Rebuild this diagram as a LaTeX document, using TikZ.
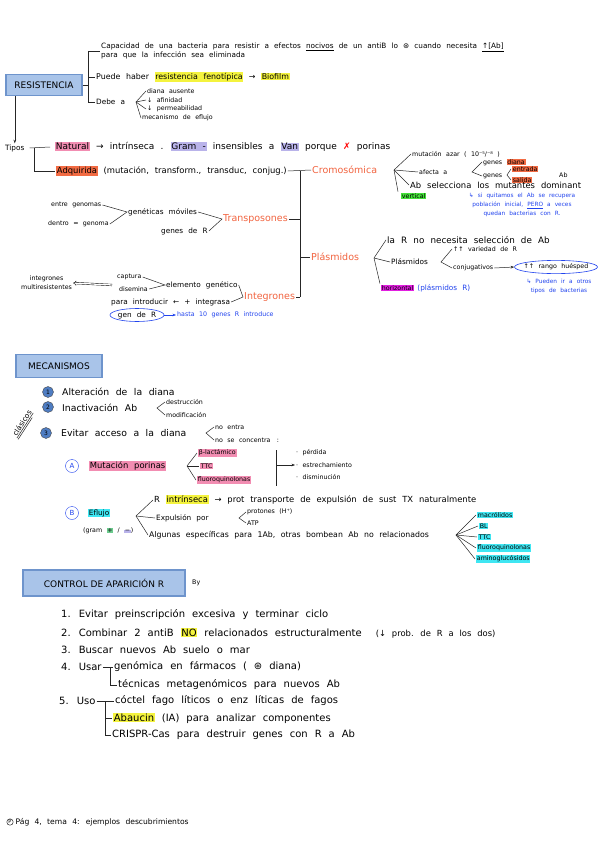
\documentclass[tikz,border=0pt]{standalone}
\usepackage{fontspec}
\setmainfont{DejaVu Sans}
\usetikzlibrary{arrows.meta,positioning,shapes.geometric}

\definecolor{boxfill}{HTML}{A9C4E9}
\definecolor{boxline}{HTML}{6E94CC}
\definecolor{hlpink}{HTML}{F28DB2}
\definecolor{hlyellow}{HTML}{F4F33E}
\definecolor{hlorange}{HTML}{F26B43}
\definecolor{hllav}{HTML}{B9B3EA}
\definecolor{hlgreen}{HTML}{45E23A}
\definecolor{hlmag}{HTML}{E21FE0}
\definecolor{hlcyan}{HTML}{3FE6F2}
\definecolor{hlmint}{HTML}{6CCB8E}
\definecolor{inkorange}{HTML}{F26440}
\definecolor{inkblue}{HTML}{2244EE}
\definecolor{numfill}{HTML}{4F7DC2}

\newcommand{\mk}[2]{{\setlength{\fboxsep}{0.7pt}\colorbox{#1}{#2}}}
\newcommand{\hand}[1]{\fontsize{#1}{9}\selectfont\spaceskip=0.7em\relax}

\begin{document}
\begin{tikzpicture}[x=1pt, y=-1pt,
    every node/.style={font=\hand{7.3}, inner sep=1pt, anchor=west},
    small/.style={font=\hand{6.3}},
    mid/.style={font=\hand{8.4}},
    big/.style={font=\hand{10}},
    branch/.style={text=inkorange, font=\fontsize{9.5}{11}\selectfont},
    ink/.style={text=inkblue},
    note/.style={ink, font=\hand{5.8}, align=center, anchor=center},
    title/.style={rectangle, draw=boxline, fill=boxfill, line width=1.4pt, anchor=center, font=\fontsize{9}{11}\selectfont},
    num/.style={circle, draw=black!70, fill=numfill, minimum size=11pt, inner sep=0pt, anchor=center, font=\fontsize{6}{7}\selectfont},
    letter/.style={circle, draw=inkblue, text=inkblue, minimum size=13pt, inner sep=0pt, anchor=center, font=\fontsize{7}{8}\selectfont},
    ring/.style={ellipse, draw=inkblue, line width=0.6pt, inner xsep=-3pt, inner ysep=1.5pt, anchor=center},
    link/.style={line width=0.5pt, draw=black!85},
    arrow/.style={link, -{Stealth[length=3.5pt]}}
]
\path[fill=white] (0,0) rectangle (600,848);
\useasboundingbox (0,0) rectangle (600,848);

% resistencia
\node[title, minimum width=76pt, minimum height=21pt] (res) at (44,85) {RESISTENCIA};
\node[align=left] (def) at (100,51) {Capacidad de una bacteria para resistir a efectos \underline{nocivos} de un antiB lo ⊛ cuando necesita \underline{↑[Ab]}\\para que la infección sea eliminada};
\node[font=\hand{7.9}] (pue) at (95,77) {Puede haber \mk{hlyellow}{resistencia fenotípica} → \mk{hlyellow}{Biofilm}};
\node (deb) at (95,102) {Debe a};
\node[small] (dia) at (146,91) {diana ausente};
\node[small] (afi) at (146,100) {↓ afinidad};
\node[small] (per) at (146,109) {↓ permeabilidad};
\node[small] (mec) at (141,118) {mecanismo de eflujo};

\coordinate (bra) at (88,85);
\coordinate (fd) at (136,102);
\draw[link] (res.east) -- (bra);
\draw[link] (bra |- def.west) -- (bra |- deb.west);
\draw[link] (bra |- def.west) -- (def.west);
\draw[link] (bra |- pue.west) -- (pue.west);
\draw[link] (bra |- deb.west) -- (deb.west);
\foreach \n in {dia,afi,per,mec}
    \draw[link] (fd) -- (\n.west);

% tipos
\node (tip) at (4,148) {Tipos};
\draw[arrow] (res.south -| tip.north) -- (tip.north);
\node[font=\hand{9}] (nat) at (54,147) {\mk{hlpink}{Natural} → intrínseca . \mk{hllav}{Gram -} insensibles a \mk{hllav}{Van} porque \textcolor{red}{✗} porinas};
\node[mid] (adq) at (55,171) {\mk{hlorange}{Adquirida} (mutación, transform., transduc, conjug.)};
\draw[link] ([xshift=4pt]tip.east) -- ([xshift=-4pt]nat.west);
\draw[link] ([xshift=9pt]tip.east) |- (adq.west);

\node[branch] (cro) at (311,170) {Cromosómica};
\node[branch] (tra) at (222,219) {Transposones};
\node[branch] (pla) at (310,257) {Plásmidos};
\node[branch] (int) at (243,297) {Integrones};
\coordinate (spine) at (300,171);
\draw[link] (adq.east) -- (cro.west);
\draw[link] (spine) -- (spine |- int.east);
\draw[link] (tra.east) -- (spine |- tra.east);
\draw[link] (spine |- pla.west) -- (pla.west);
\draw[link] (int.east) -- (spine |- int.east);

% cromosomica
\coordinate (fc) at (394,170);
\node[small] (mut) at (411,154) {mutación azar ( 10⁻⁵/⁻⁸ )};
\node[small] (afe) at (418,172) {afecta a};
\node[small] (gdi) at (482,162) {genes \mk{hlorange}{diana}};
\node[small] (gen) at (482,176) {genes};
\node[small] (inp) at (511,169) {\mk{hlorange}{entrada}};
\node[small] (out) at (511,180) {\mk{hlorange}{salida}};
\node[small] (abx) at (558,175) {Ab};
\node[mid] (sel) at (409,185) {Ab selecciona los mutantes dominant};
\node[small] (ver) at (400,196) {\mk{hlgreen}{vertical}};
\node[note] (qui) at (522,205) {↳ si quitamos el Ab se recupera\\población inicial, \underline{PERO} a veces\\quedan bacterias con R.};
\foreach \n in {mut,afe,sel}
    \draw[link] (fc) -- (\n.west);
\draw[link] (fc) -- ([xshift=-2pt]ver.north west);
\coordinate (fa) at (472,172);
\draw[link] (gdi.west) -- (fa) -- (gen.west);
\coordinate (fg) at (507,175);
\draw[link] (inp.west) -- (fg) -- (out.west);

% transposones
\node[small] (eng) at (50,205) {entre genomas};
\node[small] (deg) at (47,224) {dentro = genoma};
\node (gmo) at (127,212) {genéticas móviles};
\node (gdr) at (160,231) {genes de R};
\draw[link] (eng.east) -- (gmo.west) -- (deg.east);
\draw[link] (gmo.east) -- (tra.west) -- (gdr.east);

% plasmidos
\coordinate (fp) at (374,258);
\node[font=\hand{8.8}] (lar) at (386,240) {la R no necesita selección de Ab};
\node (pl2) at (390,262) {Plásmidos};
\node[small] (hor) at (380,288) {\mk{hlmag}{horizontal}};
\node[ink, right=1pt of hor] (plr) {(plásmidos R)};
\draw[link] (fp) -- (lar.west);
\draw[link] (fp) -- (pl2.west);
\draw[link] (fp) -- (hor.north west);
\coordinate (fq) at (441,262);
\node[small] (var) at (452,249) {↑↑ variedad de R};
\node[small] (cnj) at (452,268) {conjugativos};
\node[ring, small] (ran) at (556,267) {↑↑ rango huésped};
\draw[link] (var.west) -- (fq) -- (cnj.west);
\draw[arrow] (cnj.east) -- (ran.west);
\node[note] (otr) at (559,286) {↳ Pueden ir a otros\\tipos de bacterias};

% integrones
\node[small, align=center] (imr) at (20,283) {integrones\\multiresistentes};
\coordinate (imp) at (112,285);
\draw[-{Implies}, double, double distance=1.3pt, line width=0.4pt] (imp) -- (imr.east);
\node[small] (cpt) at (116,277) {captura};
\node[small] (dsm) at (118,289) {disemina};
\node (ele) at (165,285) {elemento genético};
\node (pin) at (110,302) {para introducir ← + integrasa};
\draw[link] (cpt.east) -- (ele.west) -- (dsm.east);
\draw[link] (ele.east) -- (int.west) -- (pin.east);
\node[ellipse, draw=inkblue, line width=0.6pt, inner sep=0pt, anchor=center, minimum width=54pt, minimum height=13pt] (gnr) at (137,315) {gen de R};
\node[ink, small] (has) at (176,315) {hasta 10 genes R introduce};
\draw[arrow, draw=inkblue] (gnr.east) -- (has.west);

% mecanismos
\node[title, minimum width=86pt, minimum height=23pt] (mcs) at (59,366) {MECANISMOS};
\node[num] (n1) at (48,392) {1};
\node[num] (n2) at (48,407) {2};
\node[num] (n3) at (46,433) {3};
\node[font=\hand{9.3}] (alt) at (61,392) {Alteración de la diana};
\node[font=\hand{9.3}] (ina) at (61,408) {Inactivación Ab};
\node[small] (des) at (165,402) {destrucción};
\node[small] (mdf) at (165,415) {modificación};
\coordinate (fi) at (157,408);
\draw[link] (des.west) -- (fi) -- (mdf.west);
\node[rotate=57, anchor=center, inner sep=0.5pt] (cla) at (22,423) {clásicos};
\draw[link] ([yshift=-0.5pt]cla.south west) -- ([yshift=-0.5pt]cla.south east);
\draw[link] (cla.south west) ++(1.2pt,-1.8pt) -- ++(57:26pt);
\node[font=\hand{9.3}] (eva) at (60,433) {Evitar acceso a la diana};
\node[small] (noe) at (214,427) {no entra};
\node[small] (nsc) at (214,440) {no se concentra\quad :};
\coordinate (fe) at (206,433);
\draw[link] (noe.west) -- (fe) -- (nsc.west);

\node[letter] (la) at (72,466) {A};
\node[mid] (mpo) at (88,466) {\mk{hlpink}{Mutación porinas}};
\coordinate (fm) at (187,466);
\node[small] (blc) at (197,453) {\mk{hlpink}{β-lactámico}};
\node[small] (ttc) at (199,466) {\mk{hlpink}{TTC}};
\node[small] (flq) at (196,480) {\mk{hlpink}{fluoroquinolonas}};
\foreach \n in {blc,ttc,flq}
    \draw[link] (fm) -- (\n.west);
\coordinate (bt) at (276,450);
\coordinate (bb) at (276,486);
\draw[link] (bt) -- (bb);
\node[small] (prd) at (295,453) {· pérdida};
\node[small] (est) at (295,465) {· estrechamiento};
\node[small] (dsn) at (295,477) {· disminución};
\draw[arrow] (bt |- est.west) -- (est.west);

\node[letter] (lb) at (72,513) {B};
\node (efl) at (87,513) {\mk{hlcyan}{Eflujo}};
\node[small] (grm) at (82,531) {(gram \mk{hlmint}{+} / \mk{hllav}{−})};
\coordinate (ff) at (136,516);
\node[mid] (rin) at (153,500) {R \mk{hlyellow}{intrínseca} → prot transporte de expulsión de sust TX naturalmente};
\node (exq) at (155,518) {Expulsión por};
\node[small] (prt) at (246,512) {protones (H⁺)};
\node[small] (atp) at (246,523) {ATP};
\node[font=\hand{7.8}] (alg) at (148,535) {Algunas específicas para 1Ab, otras bombean Ab no relacionados};
\foreach \n in {rin,exq,alg}
    \draw[link] (ff) -- (\n.west);
\coordinate (fx) at (239,518);
\draw[link] (prt.west) -- (fx) -- (atp.west);
\coordinate (fl) at (456,535);
\node[small] (mac) at (476,515) {\mk{hlcyan}{macrólidos}};
\node[small] (blb) at (478,526) {\mk{hlcyan}{BL}};
\node[small] (tt2) at (477,537) {\mk{hlcyan}{TTC}};
\node[small] (fq2) at (476,548) {\mk{hlcyan}{fluoroquinolonas}};
\node[small] (amg) at (475,559) {\mk{hlcyan}{aminoglucósidos}};
\foreach \n in {mac,blb,tt2,fq2,amg}
    \draw[link] (fl) -- (\n.west);

% control
\node[title, minimum width=162pt, minimum height=26pt] (ctl) at (104,583) {CONTROL DE APARICIÓN R};
\node[small] (by) at (191,583) {By};
\node[big] (l1) at (60,615) {1. Evitar preinscripción excesiva y terminar ciclo};
\node[big] (l2) at (60,633) {2. Combinar 2 antiB \mk{hlyellow}{NO} relacionados estructuralmente \ {\hand{8.4}(↓ prob. de R a los dos)}};
\node[big] (l3) at (60,650) {3. Buscar nuevos Ab suelo o mar};
\node[big] (l4) at (60,667) {4. Usar};
\node[big] (gnm) at (113,667) {genómica en fármacos ( ⊛ diana)};
\node[big] (tcn) at (117,685) {técnicas metagenómicos para nuevos Ab};
\coordinate (t4) at (110,667);
\draw[link] (l4.east) -- (gnm.west);
\draw[link] (t4) |- (tcn.west);
\node[big] (l5) at (58,701) {5. Uso};
\node[big] (coc) at (114,701) {cóctel fago líticos o enz líticas de fagos};
\node[big] (abc) at (112,718) {\mk{hlyellow}{Abaucin} (IA) para analizar componentes};
\node[big] (crs) at (111,735) {CRISPR-Cas para destruir genes con R a Ab};
\coordinate (t5) at (105,701);
\draw[link] (l5.east) -- (coc.west);
\draw[link] (t5) |- (crs.west);
\draw[link] (t5 |- abc.west) -- (abc.west);

\node[circle, draw, inner sep=0.6pt, anchor=center, font=\fontsize{5}{6}\selectfont] (cp) at (10,822) {P};
\node[font=\hand{7.6}, right=1pt of cp] (ftr) {Pág 4, tema 4: ejemplos descubrimientos};
\end{tikzpicture}
\end{document}
